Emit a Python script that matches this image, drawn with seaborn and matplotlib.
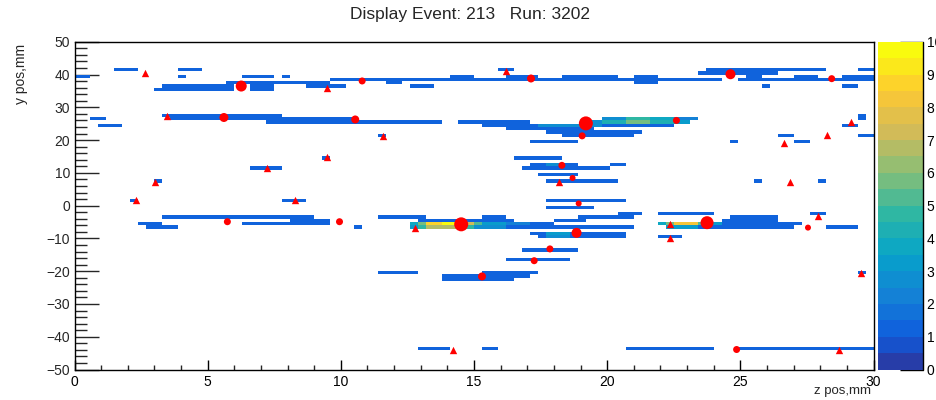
import numpy as np
import pandas as pd
import matplotlib
matplotlib.use("Agg")
import matplotlib.pyplot as plt
from matplotlib.colors import ListedColormap, LinearSegmentedColormap
from matplotlib.ticker import MultipleLocator
import seaborn as sns

# ---------------- data ----------------
# ordinary hits: row centre y (mm), z start (mm), z end (mm); content = BASE_Q
BASE_Q = 1.4
hit_y = [41.5, 41.5, 39.5, 39.5, 39.5, 39.5, 35.5, 36.5, 37.5, 36.5, 35.5, 37.5, 38.5, 36.5,
         38.5, 37.5, 36.2, 38.5, 39.5, 41.5, 39.5, 38.5, 39.5, 39.5, 37.5, 38.5, 40.5, 41.5,
         41.5, 39.5, 38.5, 39.5, 39.5, 36.2, 36.5, 41.5,
         26.5, 24.5, 27.5, 26.5, 25.5, 25.8, 25.5, 24.5, 23.5, 25.5, 26.5, 22.5, 21.5, 19.5,
         21.5, 14.5, 14.5, 12.5, 11.5, 12.5, 11.5, 9.5, 7.5, 7.5, 7.5, 7.5, 1.5, 1.5, 1.5,
         -0.5, 27.5, 26.5, 24.5, 21.5, 21.5, 19.5, 19.5,
         -3.5, -5.5, -6.5, -5.5, -5.5, -4.5, -6.8, -3.5, -3.5, -4.5, -5.5, -6.5, -4.5, -3.5,
         -2.5, -6.5, -8.5, -9.5, -13.5, -16.5, -20.5, -20.5, -21.5, -22.5, -2.6, -3.5, -5.5,
         -6.5, -4.5, -5.5, -6.5, -6.8, -2.6, -6.8, -9.8, -20.5,
         -43.5, -43.5, -43.5, -43.5]
hit_z0 = [1.5, 3.9, 3.9, 0.0, 6.3, 7.8, 2.9, 3.35, 5.7, 6.6, 6.6, 6.9, 9.6, 8.7,
          11.1, 11.7, 12.6, 13.5, 14.1, 15.9, 16.2, 16.2, 18.3, 21.0, 21.0, 22.0, 23.4, 23.7,
          27.0, 27.0, 24.9, 25.2, 28.8, 25.8, 28.8, 29.4,
          0.6, 0.95, 3.35, 3.6, 7.3, 11.1, 14.4, 15.3, 16.2, 19.2, 19.85, 17.7, 18.3, 17.1,
          11.45, 16.5, 9.3, 17.1, 16.8, 20.1, 6.6, 17.4, 17.7, 2.85, 25.5, 27.9, 17.7, 2.1, 7.84,
          17.7, 29.4, 29.4, 28.8, 29.4, 26.3, 26.9, 24.6,
          3.35, 2.45, 2.75, 2.75, 6.33, 8.1, 10.5, 11.4, 15.3, 13.0, 12.6, 12.6, 18.0, 18.9,
          20.4, 17.4, 17.1, 17.4, 16.8, 16.2, 11.4, 15.3, 13.8, 13.8, 22.0, 24.6, 22.0,
          22.5, 24.3, 24.3, 24.3, 26.1, 27.6, 28.2, 22.0, 29.35,
          12.9, 15.4, 20.7, 24.8]
hit_z1 = [2.5, 4.8, 4.2, 0.6, 7.5, 8.1, 6.0, 6.0, 6.9, 7.5, 7.5, 9.6, 11.1, 10.2,
          13.5, 12.4, 13.5, 16.2, 15.0, 16.5, 17.4, 22.4, 20.4, 21.9, 21.9, 24.3, 26.5, 27.0,
          28.2, 27.9, 30.0, 25.8, 30.0, 26.1, 29.4, 30.0,
          1.25, 1.85, 7.85, 10.5, 11.1, 13.85, 17.0, 22.4, 19.5, 23.2, 23.5, 21.35, 21.0, 18.9,
          11.8, 18.3, 9.6, 18.9, 20.1, 20.7, 7.9, 18.9, 20.4, 3.25, 25.8, 28.2, 20.7, 2.5, 8.74,
          19.5, 29.7, 29.7, 29.5, 30.0, 26.9, 27.5, 24.9,
          9.04, 3.35, 3.97, 3.35, 9.66, 9.66, 10.85, 13.2, 16.2, 16.4, 17.96, 17.96, 19.2, 21.0,
          21.3, 21.0, 20.7, 20.7, 18.9, 18.6, 12.95, 17.4, 17.2, 16.4, 24.0, 26.4, 24.3,
          24.3, 26.4, 27.35, 26.4, 27.04, 28.2, 29.4, 22.8, 29.7,
          14.2, 16.0, 23.85, 30.0]

# high-charge cells: row centre y, z start, z end, content
hot_y = [-5.5] * 8 + [-6.5] * 5 + [-5.5] * 5 + [-6.5] + [25.5] * 5 + [26.5] * 4 + \
        [24.5, -8.5, -9.5, 12.5]
hot_z0 = [12.6, 13.0, 13.35, 13.7, 14.3, 14.85, 15.1, 16.3,
          12.6, 13.0, 13.35, 14.3, 15.1,
          22.0, 22.3, 22.6, 23.3, 23.7,
          22.3,
          19.2, 19.85, 20.7, 21.6, 22.35,
          19.85, 20.7, 21.6, 22.4,
          17.5, 17.6, 17.6, 17.7]
hot_z1 = [13.0, 13.35, 13.7, 14.3, 14.85, 15.1, 16.3, 17.0,
          13.0, 13.35, 14.3, 15.1, 16.3,
          22.3, 22.6, 23.3, 23.7, 24.3,
          23.3,
          19.85, 20.7, 21.6, 22.35, 23.2,
          20.7, 21.6, 22.4, 23.5,
          19.8, 18.6, 18.6, 18.3]
hot_q = [3.8, 5.8, 8.6, 9.8, 7.0, 5.0, 3.2, 2.2,
         3.0, 4.6, 6.8, 4.6, 2.8,
         3.5, 5.5, 8.0, 5.0, 3.0,
         3.0,
         2.6, 4.0, 5.8, 4.2, 3.0,
         2.6, 4.5, 3.5, 2.2,
         2.8, 3.0, 2.6, 2.5]

# reconstructed clusters (circles, size ~ charge) and seeds (triangles)
circ_z = [6.26, 10.8, 17.14, 24.63, 28.43, 5.61, 10.54, 19.2, 19.06, 18.3, 18.7, 18.93,
          14.52, 18.85, 17.85, 17.26, 15.3, 23.75, 5.74, 9.95, 27.54, 24.86, 22.6]
circ_y = [36.5, 38.05, 38.8, 40.1, 38.75, 26.9, 26.3, 25.1, 21.3, 12.3, 8.45, 0.67,
          -5.7, -8.3, -13.2, -16.8, -21.6, -5.2, -4.9, -4.9, -6.7, -43.9, 26.0]
circ_r = [5.5, 3.5, 4.0, 5.0, 3.5, 4.5, 4.0, 7.0, 3.5, 3.5, 3.0, 3.0,
          7.0, 5.0, 3.5, 3.5, 4.0, 6.5, 3.5, 3.5, 3.0, 3.5, 3.5]
tri_z = [2.66, 9.47, 16.2, 3.49, 11.57, 9.47, 7.24, 3.04, 2.3, 8.29, 29.17, 28.26, 26.64,
         26.85, 27.9, 18.19, 12.78, 22.35, 22.35, 29.52, 14.21, 28.72]
tri_y = [40.6, 36.0, 41.1, 27.3, 21.3, 14.7, 11.5, 7.1, 1.6, 1.6, 25.5, 21.6, 19.0,
         7.1, -3.2, 7.1, -6.8, -5.7, -10.0, -20.6, -43.9, -43.9]

cbar_ticks = list(range(0, 11))

# ---------------- binning of hits into TH2-like grid ----------------
Z_MIN, Z_MAX, NZ = 0.0, 30.0, 100
Y_MIN, Y_MAX, NY = -50.0, 50.0, 100
DZ = (Z_MAX - Z_MIN) / NZ
DY = (Y_MAX - Y_MIN) / NY

cells = {}
def add_seg(y, z0, z1, q):
    j = int(np.floor((y - Y_MIN) / DY))
    i0 = int(round((z0 - Z_MIN) / DZ))
    i1 = max(i0 + 1, int(round((z1 - Z_MIN) / DZ)))
    for i in range(max(i0, 0), min(i1, NZ)):
        cells[(i, j)] = max(cells.get((i, j), 0.0), q)

for y, a, b in zip(hit_y, hit_z0, hit_z1):
    add_seg(y, a, b, BASE_Q)
for y, a, b, q in zip(hot_y, hot_z0, hot_z1, hot_q):
    add_seg(y, a, b, q)

df = pd.DataFrame({
    "z": [Z_MIN + (i + 0.5) * DZ for (i, j) in cells],
    "y": [Y_MIN + (j + 0.5) * DY for (i, j) in cells],
    "q": list(cells.values()),
})

# ---------------- palette (ROOT kBird, 20 contour bands) ----------------
bird_r = [0.2082, 0.0592, 0.0780, 0.0232, 0.1802, 0.5301, 0.8186, 0.9956, 0.9764]
bird_g = [0.1664, 0.3599, 0.5041, 0.6419, 0.7178, 0.7492, 0.7328, 0.7862, 0.9832]
bird_b = [0.5293, 0.8684, 0.8385, 0.7914, 0.6425, 0.4662, 0.3499, 0.1968, 0.0539]
bird = LinearSegmentedColormap.from_list(
    "bird", list(zip(np.linspace(0, 1, 9), zip(bird_r, bird_g, bird_b))))
cmap = ListedColormap([bird((k + 1) / 20) for k in range(20)])

# ---------------- figure ----------------
sns.set_theme(style="white")
plt.rcParams["font.family"] = ["Liberation Sans", "DejaVu Sans"]
plt.rcParams["axes.linewidth"] = 1.0

fig = plt.figure(figsize=(9.36, 4.0), dpi=100)
W, H = 936.0, 400.0
ax = fig.add_axes([74.5 / W, 1 - 369.5 / H, 799 / W, (369.5 - 41.8) / H])
cax = fig.add_axes([877.5 / W, 1 - 369.5 / H, 45 / W, (369.5 - 41.8) / H])

sns.histplot(data=df, x="z", y="y", weights="q",
             bins=(NZ, NY), binrange=((Z_MIN, Z_MAX), (Y_MIN, Y_MAX)),
             cmap=cmap, vmin=0, vmax=10, cbar=True, cbar_ax=cax,
             cbar_kws={"ticks": cbar_ticks}, ax=ax, linewidth=0)

sns.scatterplot(x=tri_z, y=tri_y, marker="^", s=28, color="#ff0000",
                linewidth=0, ax=ax, legend=False, zorder=5)
sns.scatterplot(x=circ_z, y=circ_y, marker="o",
                s=[(2 * r * 0.72) ** 2 for r in circ_r], color="#ff0000",
                linewidth=0, ax=ax, legend=False, zorder=6)

ax.set_xlim(Z_MIN, Z_MAX)
ax.set_ylim(Y_MIN, Y_MAX)
ax.set_xlabel("")
ax.set_ylabel("")
ax.xaxis.set_major_locator(MultipleLocator(5))
ax.xaxis.set_minor_locator(MultipleLocator(1))
ax.yaxis.set_major_locator(MultipleLocator(10))
ax.yaxis.set_minor_locator(MultipleLocator(2))
ax.tick_params(axis="x", which="major", direction="in", length=7.2, width=1,
               bottom=True, top=False, labelsize=10, pad=4, colors="black")
ax.tick_params(axis="x", which="minor", direction="in", length=3.6, width=1,
               bottom=True, top=False)
ax.tick_params(axis="y", which="major", direction="in", length=17, width=1,
               left=True, right=False, labelsize=10, pad=3)
ax.tick_params(axis="y", which="minor", direction="in", length=8.5, width=1,
               left=True, right=False)
for s in ax.spines.values():
    s.set_visible(True)
    s.set_color("black")
    s.set_linewidth(1.0)

# colour bar styling (ROOT palette axis)
cbar = ax.collections[0].colorbar
cbar.outline.set_visible(False)
cax.tick_params(axis="y", which="major", direction="in", length=16.5, width=1,
                right=True, left=False, labelright=True, labelleft=False,
                labelsize=10, pad=3, colors="black")
cax.minorticks_off()
cax.plot([1, 1], [0, 1], transform=cax.transAxes, color="black", lw=1,
         clip_on=False)

fig.text(470 / W, 1 - 14 / H, "Display Event: 213   Run: 3202", ha="center",
         va="center", fontsize=12.5)
fig.text(871 / W, 1 - 391 / H, "z pos,mm", ha="right", va="center", fontsize=9.5)
fig.text(21 / W, 1 - 44 / H, "y pos,mm", ha="center", va="top", rotation=90,
         fontsize=10)

fig.savefig("out.png", dpi=100)
